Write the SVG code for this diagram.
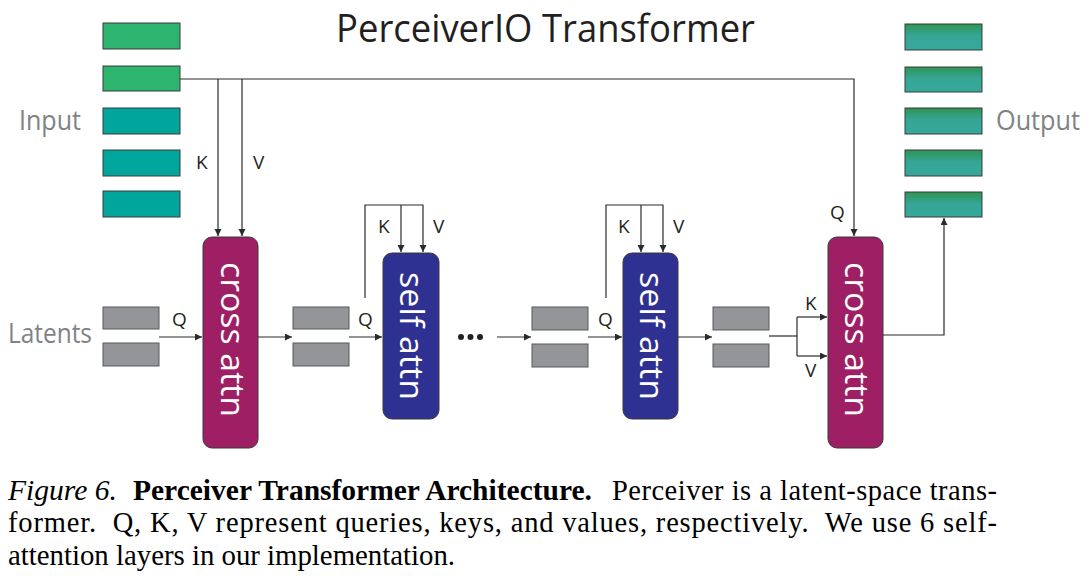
<svg xmlns="http://www.w3.org/2000/svg" width="1090" height="588" viewBox="0 0 1090 588">
<style>
.inG{fill:#2db46e;stroke:#3b3b3d;stroke-width:1}
.inT{fill:#00a69c;stroke:#3b3b3d;stroke-width:1}
.out{fill:url(#og);stroke:#3b3b3d;stroke-width:1}
.lat{fill:#939598;stroke:#58595b;stroke-width:1}
.ca{fill:#9e1f63;stroke:#3b3b3d;stroke-width:1}
.sa{fill:#2e3192;stroke:#3b3b3d;stroke-width:1}
.bt{font-family:"Open Sans","Noto Sans",sans-serif;font-size:33px;fill:#ffffff}
.lbl{font-family:"Open Sans","Noto Sans",sans-serif;font-size:27px;fill:#808285}
.kv{font-family:"Open Sans","Noto Sans",sans-serif;font-size:19px;fill:#231f20}
.ln{fill:none;stroke:#2b2b2b;stroke-width:1.2}
.cap{font-family:"Liberation Serif","Times New Roman",serif;font-size:28.5px;fill:#000}
</style>
<defs>
<linearGradient id="og" x1="0" y1="0" x2="0" y2="1">
<stop offset="0" stop-color="#2f9450"/>
<stop offset="0.45" stop-color="#35a596"/>
<stop offset="1" stop-color="#36a99b"/>
</linearGradient>
<marker id="ah" markerUnits="userSpaceOnUse" markerWidth="8" markerHeight="8" refX="7" refY="3.5" orient="auto">
<path d="M0,0 L7,3.5 L0,7 z" fill="#2b2b2b"/>
</marker>
</defs>
<rect width="1090" height="588" fill="#ffffff"/>

<text x="336" y="42" font-family="'Open Sans','Noto Sans',sans-serif" font-size="39" fill="#231f20" textLength="419" lengthAdjust="spacingAndGlyphs">PerceiverIO Transformer</text>

<g id="input">
<rect class="inG" x="103" y="23" width="77" height="26"/>
<rect class="inG" x="103" y="66" width="77" height="25"/>
<rect class="inT" x="103" y="108" width="77" height="26"/>
<rect class="inT" x="103" y="150" width="77" height="26"/>
<rect class="inT" x="103" y="191" width="77" height="26"/>
<text class="lbl" x="19" y="130" textLength="62" lengthAdjust="spacingAndGlyphs">Input</text>
</g>

<g id="output">
<rect class="out" x="905" y="24" width="77" height="26"/>
<rect class="out" x="905" y="67" width="77" height="25"/>
<rect class="out" x="905" y="108" width="77" height="26"/>
<rect class="out" x="905" y="150" width="77" height="26"/>
<rect class="out" x="905" y="192" width="77" height="25"/>
<text class="lbl" x="996" y="130" textLength="84" lengthAdjust="spacingAndGlyphs">Output</text>
</g>

<g id="latents0">
<rect class="lat" x="103" y="307" width="56" height="22"/>
<rect class="lat" x="103" y="343" width="56" height="23"/>
<text class="lbl" x="8" y="343" textLength="84" lengthAdjust="spacingAndGlyphs">Latents</text>
</g>
<g id="latents1">
<rect class="lat" x="293" y="307" width="56" height="22"/>
<rect class="lat" x="293" y="343" width="56" height="23"/>
</g>
<g id="latents2">
<rect class="lat" x="532" y="307" width="56" height="23"/>
<rect class="lat" x="532" y="344" width="56" height="23"/>
</g>
<g id="latents3">
<rect class="lat" x="713" y="307" width="56" height="23"/>
<rect class="lat" x="713" y="344" width="56" height="23"/>
</g>

<g id="crossattn1">
<rect class="ca" x="203" y="237" width="55" height="211" rx="9"/>
<text class="bt" transform="translate(221,339.5) rotate(90)" text-anchor="middle" textLength="155" lengthAdjust="spacingAndGlyphs">cross attn</text>
</g>
<g id="selfattn1">
<rect class="sa" x="383" y="253" width="56" height="166" rx="9"/>
<text class="bt" transform="translate(400,336) rotate(90)" text-anchor="middle" textLength="128" lengthAdjust="spacingAndGlyphs">self attn</text>
</g>
<g id="ellipsis">
<circle cx="461" cy="337" r="3" fill="#231f20"/>
<circle cx="470.5" cy="337" r="3" fill="#231f20"/>
<circle cx="480" cy="337" r="3" fill="#231f20"/>
</g>
<g id="selfattn2">
<rect class="sa" x="623" y="253" width="55" height="166" rx="9"/>
<text class="bt" transform="translate(640,336) rotate(90)" text-anchor="middle" textLength="128" lengthAdjust="spacingAndGlyphs">self attn</text>
</g>
<g id="crossattn2">
<rect class="ca" x="828" y="237" width="55" height="211" rx="9"/>
<text class="bt" transform="translate(845,339.5) rotate(90)" text-anchor="middle" textLength="155" lengthAdjust="spacingAndGlyphs">cross attn</text>
</g>

<g id="connectors">
<path class="ln" d="M180,79 H854 V236" marker-end="url(#ah)"/>
<path class="ln" d="M218,79 V236" marker-end="url(#ah)"/>
<path class="ln" d="M242,79 V236" marker-end="url(#ah)"/>
<path class="ln" d="M159,337 H202" marker-end="url(#ah)"/>
<path class="ln" d="M258,337 H292" marker-end="url(#ah)"/>
<path class="ln" d="M349,337 H382" marker-end="url(#ah)"/>
<path class="ln" d="M365,298 V205 H423 V252" marker-end="url(#ah)"/>
<path class="ln" d="M401,205 V252" marker-end="url(#ah)"/>
<path class="ln" d="M497,337 H531" marker-end="url(#ah)"/>
<path class="ln" d="M588,337 H622" marker-end="url(#ah)"/>
<path class="ln" d="M606,298 V205 H663 V252" marker-end="url(#ah)"/>
<path class="ln" d="M641,205 V252" marker-end="url(#ah)"/>
<path class="ln" d="M678,337 H712" marker-end="url(#ah)"/>
<path class="ln" d="M769,336 H797"/>
<path class="ln" d="M797,317 V356"/>
<path class="ln" d="M797,317 H827" marker-end="url(#ah)"/>
<path class="ln" d="M797,356 H827" marker-end="url(#ah)"/>
<path class="ln" d="M883,335 H944 V218" marker-end="url(#ah)"/>
<text class="kv" x="196" y="169">K</text>
<text class="kv" x="253" y="169">V</text>
<text class="kv" x="172" y="326">Q</text>
<text class="kv" x="378" y="233">K</text>
<text class="kv" x="433" y="233">V</text>
<text class="kv" x="358" y="326">Q</text>
<text class="kv" x="618" y="233">K</text>
<text class="kv" x="673" y="233">V</text>
<text class="kv" x="598" y="326">Q</text>
<text class="kv" x="830" y="219">Q</text>
<text class="kv" x="805" y="310">K</text>
<text class="kv" x="805" y="377">V</text>
</g>

<g id="caption">
<text class="cap" x="8" y="500" font-style="italic" textLength="109" lengthAdjust="spacingAndGlyphs">Figure 6.</text>
<text class="cap" x="133" y="500" font-weight="bold" textLength="459" lengthAdjust="spacingAndGlyphs">Perceiver Transformer Architecture.</text>
<text class="cap" x="612" y="500" textLength="385" lengthAdjust="spacing">Perceiver is a latent-space trans-</text>
<text class="cap" x="8" y="532" textLength="989" lengthAdjust="spacing" xml:space="preserve">former.  Q, K, V represent queries, keys, and values, respectively.  We use 6 self-</text>
<text class="cap" x="8" y="565" textLength="447" lengthAdjust="spacingAndGlyphs">attention layers in our implementation.</text>
</g>
</svg>
